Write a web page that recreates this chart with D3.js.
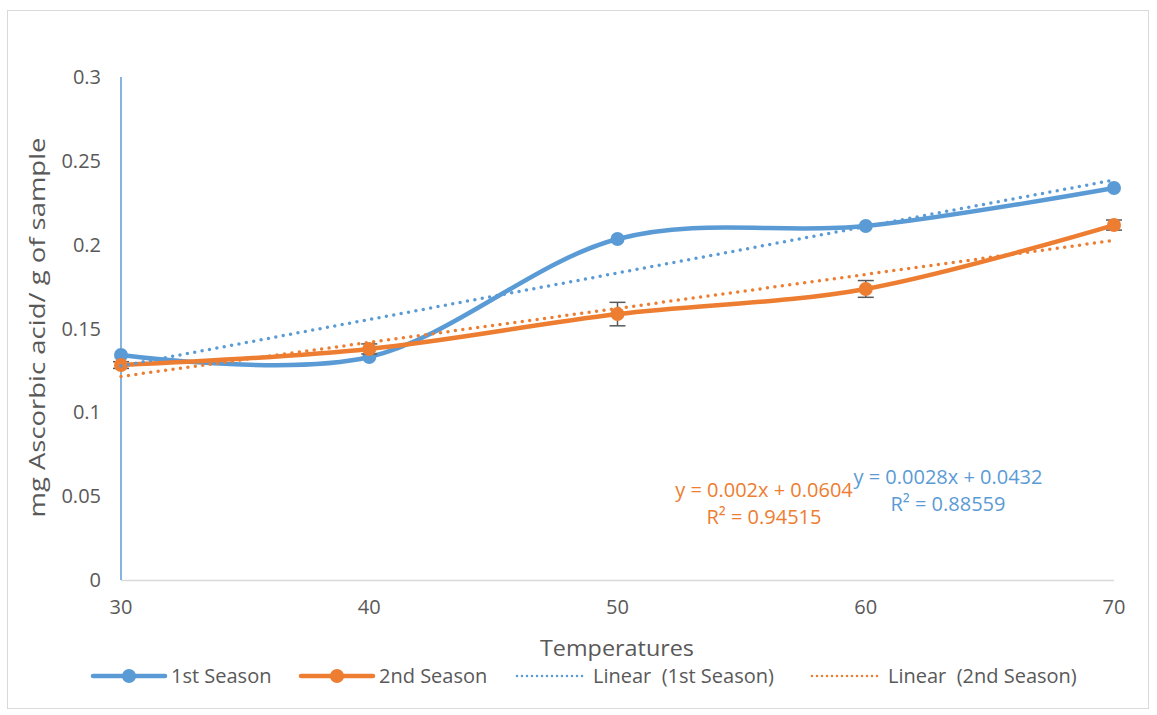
<!DOCTYPE html>
<html>
<head>
<meta charset="utf-8">
<script src="https://cdn.jsdelivr.net/npm/d3@7"></script>
<style>
  body { margin: 0; background: #fff; }
  svg text { font-family: "Open Sans", sans-serif; fill: #595959; white-space: pre; }
</style>
</head>
<body>
<div id="chart"></div>
<script>
// data
const temps = [30, 40, 50, 60, 70];
const season1 = [0.1342, 0.1330, 0.2034, 0.2111, 0.2338];
const season2 = [0.1282, 0.1378, 0.1586, 0.1736, 0.2117];
const season2Err = [0.002, 0.003, 0.007, 0.005, 0.003];
const yTicks = [0, 0.05, 0.1, 0.15, 0.2, 0.25, 0.3];
const eq1 = ["y = 0.0028x + 0.0432", "R² = 0.88559"];
const eq2 = ["y = 0.002x + 0.0604", "R² = 0.94515"];
const legendNames = ["1st Season", "2nd Season", "Linear  (1st Season)", "Linear  (2nd Season)"];

const blue = "#5B9BD5", orange = "#ED7D31", grey = "#595959";
const width = 1157, height = 715;

const svg = d3.select("#chart").append("svg")
    .attr("width", width)
    .attr("height", height);

// chart border
svg.append("rect")
    .attr("x", 7.5).attr("y", 10.5)
    .attr("width", 1141).attr("height", 698)
    .attr("fill", "none")
    .attr("stroke", "#d9d9d9");

const x = d3.scaleLinear().domain([30, 70]).range([121, 1114]);
const y = d3.scaleLinear().domain([0, 0.3]).range([580, 77]);

// x axis line
svg.append("line")
    .attr("x1", x(30)).attr("x2", x(70))
    .attr("y1", y(0) + 0.5).attr("y2", y(0) + 0.5)
    .attr("stroke", "#d9d9d9").attr("stroke-width", 1.5);

// y axis line (blue)
svg.append("line")
    .attr("x1", x(30)).attr("x2", x(30))
    .attr("y1", y(0.3)).attr("y2", y(0))
    .attr("stroke", blue).attr("stroke-width", 1.5);

// tick labels
svg.append("g").selectAll("text")
    .data(yTicks).enter().append("text")
    .attr("x", 101)
    .attr("y", d => y(d))
    .attr("dy", "0.35em")
    .attr("text-anchor", "end")
    .style("font-size", "20px")
    .text(d => d);

svg.append("g").selectAll("text")
    .data(temps).enter().append("text")
    .attr("x", d => x(d))
    .attr("y", 607)
    .attr("dy", "0.35em")
    .attr("text-anchor", "middle")
    .style("font-size", "20px")
    .text(d => d);

// axis titles
svg.append("text")
    .attr("transform", "translate(37," + (y(0.15) - 1) + ") rotate(-90)")
    .attr("text-anchor", "middle")
    .attr("dy", "0.35em")
    .attr("textLength", 380)
    .attr("lengthAdjust", "spacingAndGlyphs")
    .style("font-size", "22px")
    .text("mg Ascorbic acid/ g of sample");

svg.append("text")
    .attr("x", 617).attr("y", 648)
    .attr("dy", "0.35em")
    .attr("text-anchor", "middle")
    .attr("textLength", 154)
    .attr("lengthAdjust", "spacingAndGlyphs")
    .style("font-size", "22px")
    .text("Temperatures");

// least squares fit
function fit(xs, ys) {
    const mx = d3.mean(xs), my = d3.mean(ys);
    const b = d3.sum(xs, (v, i) => (v - mx) * (ys[i] - my)) / d3.sum(xs, v => (v - mx) * (v - mx));
    return {b: b, a: my - b * mx};
}

const line = d3.line()
    .x(d => x(d[0]))
    .y(d => y(d[1]))
    .curve(d3.curveCardinal.tension(0));

function drawSeries(vals, color) {
    const pts = temps.map((t, i) => [t, vals[i]]);
    svg.append("path")
        .attr("d", line(pts))
        .attr("fill", "none")
        .attr("stroke", color)
        .attr("stroke-width", 4.5)
        .attr("stroke-linecap", "round");
    svg.append("g").selectAll("circle")
        .data(pts).enter().append("circle")
        .attr("cx", d => x(d[0]))
        .attr("cy", d => y(d[1]))
        .attr("r", 7)
        .attr("fill", color);
}

function drawErrors(vals, errs) {
    const g = svg.append("g").attr("stroke", grey).attr("stroke-width", 1.5);
    temps.forEach((t, i) => {
        const cx = x(t);
        const top = y(vals[i] + errs[i]), bot = y(vals[i] - errs[i]);
        g.append("line").attr("x1", cx).attr("x2", cx).attr("y1", top).attr("y2", bot);
        g.append("line").attr("x1", cx - 8).attr("x2", cx + 8).attr("y1", top).attr("y2", top);
        g.append("line").attr("x1", cx - 8).attr("x2", cx + 8).attr("y1", bot).attr("y2", bot);
    });
}

function drawTrend(vals, color) {
    const f = fit(temps, vals);
    svg.append("line")
        .attr("x1", x(30)).attr("y1", y(f.a + f.b * 30))
        .attr("x2", x(70)).attr("y2", y(f.a + f.b * 70))
        .attr("stroke", color)
        .attr("stroke-width", 3.5)
        .attr("stroke-linecap", "round")
        .attr("stroke-dasharray", "0 7.5");
}

drawSeries(season1, blue);
drawErrors(season2, season2Err);
drawSeries(season2, orange);
drawTrend(season1, blue);
drawTrend(season2, orange);

// trend equations
function drawEq(lines, cx, cy, color) {
    svg.append("g").selectAll("text")
        .data(lines).enter().append("text")
        .attr("x", cx)
        .attr("y", (d, i) => cy + i * 27)
        .attr("dy", "0.35em")
        .attr("text-anchor", "middle")
        .style("font-size", "20px")
        .style("fill", color)
        .text(d => d);
}
drawEq(eq2, 764, 490, orange);
drawEq(eq1, 948, 477, blue);

// legend
const legendItems = [
    {name: legendNames[0], color: blue, x0: 93, dotted: false},
    {name: legendNames[1], color: orange, x0: 301, dotted: false},
    {name: legendNames[2], color: blue, x0: 517, dotted: true},
    {name: legendNames[3], color: orange, x0: 812, dotted: true}
];
const ly = 676;
const lg = svg.append("g");
legendItems.forEach(it => {
    if (it.dotted) {
        lg.append("line")
            .attr("x1", it.x0).attr("x2", it.x0 + 66)
            .attr("y1", ly).attr("y2", ly)
            .attr("stroke", it.color)
            .attr("stroke-width", 2.5)
            .attr("stroke-linecap", "round")
            .attr("stroke-dasharray", "0 5");
        lg.append("text")
            .attr("x", it.x0 + 76).attr("y", ly)
            .attr("dy", "0.35em")
            .style("font-size", "20px")
            .text(it.name);
    } else {
        lg.append("line")
            .attr("x1", it.x0).attr("x2", it.x0 + 72)
            .attr("y1", ly).attr("y2", ly)
            .attr("stroke", it.color)
            .attr("stroke-width", 4.5)
            .attr("stroke-linecap", "round");
        lg.append("circle")
            .attr("cx", it.x0 + 36).attr("cy", ly)
            .attr("r", 7)
            .attr("fill", it.color);
        lg.append("text")
            .attr("x", it.x0 + 78).attr("y", ly)
            .attr("dy", "0.35em")
            .style("font-size", "20px")
            .text(it.name);
    }
});
</script>
</body>
</html>
